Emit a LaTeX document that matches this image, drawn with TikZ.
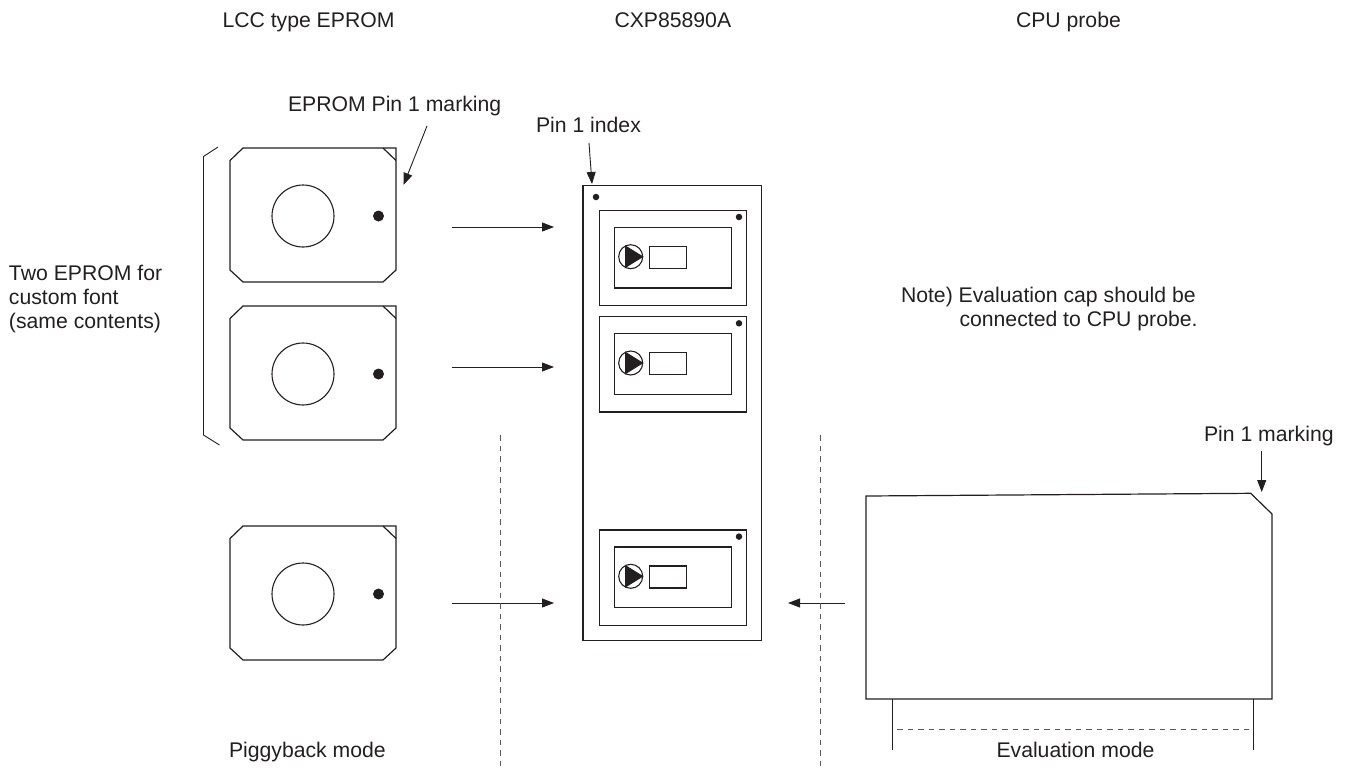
\documentclass[tikz,border=0pt]{standalone}
\usepackage{fontspec}
\setmainfont{Liberation Sans}
\usetikzlibrary{arrows.meta}
\definecolor{ink}{HTML}{231F20}
\tikzset{
  line/.style={draw=ink,line width=1.2pt,line join=miter},
  thin line/.style={draw=ink,line width=0.9pt},
  guide/.style={draw=ink!75,line width=0.8pt,dash pattern=on 5.5pt off 5pt},
  pointer/.style={draw=ink,line width=0.9pt,-{Triangle[length=12pt,width=9pt]}},
  label/.style={text=ink,font=\fontsize{21.2}{24}\selectfont,inner sep=0pt,outer sep=0pt},
  dotmark/.style={circle,fill=ink,inner sep=0pt,minimum size=#1},
  disc/.style={circle,draw=ink,line width=1.1pt,inner sep=0pt,minimum size=#1},
  box/.style={rectangle,draw=ink,line width=1.3pt,inner sep=0pt,anchor=north west}
}
\newcommand{\eprom}[2]{%
  \path[line,fill=white] (230,#2+12.5) -- (243,#2) -- (396,#2) -- (396,#2+122) -- (383,#2+134) -- (243,#2+134) -- (230,#2+122) -- cycle;
  \draw[line] (383,#2) -- (396,#2+12.5);
  \node[disc=62pt] (#1c) at (303,#2+68) {};
  \node[dotmark=11pt] (#1d) at (378.5,#2+68) {};
}
\newcommand{\sock}[2]{%
  \node[box,minimum width=147.2pt,minimum height=95.3pt] (#1o) at (598.5,#2) {};
  \node[box,minimum width=117.3pt,minimum height=60.6pt] (#1i) at (613.7,#2+17) {};
  \node[disc=24pt] (#1c) at (630.7,#2+47) {};
  \fill[ink] (625,#2+35.5) -- (643.5,#2+47) -- (625,#2+58.5) -- cycle;
  \node[box,minimum width=37pt,minimum height=22pt] (#1r) at (648.7,#2+36) {};
  \node[dotmark=6.5pt] (#1d) at (739,#2+7.3) {};
}
\begin{document}
\begin{tikzpicture}[x=1pt,y=-1pt]
\useasboundingbox (0,0) rectangle (1352,769);
% headings
\node[label,anchor=base west] (h1) at (222.5,27) {LCC type EPROM};
\node[label,anchor=base west] (h2) at (614.5,27) {CXP85890A};
\node[label,anchor=base west] (h3) at (1016,27) {CPU probe};
% EPROMs
\eprom{a}{148}
\eprom{b}{306}
\eprom{c}{526}
% bracket
\draw[thin line] (218,147) -- (203.5,156.5) -- (203.5,435) -- (219.5,445);
\node[label,anchor=base west,align=left] (two1) at (9,280) {Two EPROM for};
\node[label,anchor=base west,align=left] (two2) at (9,304) {custom font};
\node[label,anchor=base west,align=left] (two3) at (9,328.5) {(same contents)};
% device
\node[box,minimum width=178.7pt,minimum height=455.3pt] (dev) at (582.3,184.7) {};
\node[dotmark=6.5pt] (devd) at (596,197) {};
\sock{s}{209.7}
\sock{t}{316}
\sock{u}{529.3}
% labels with pointers
\node[label,anchor=base west] (mark) at (288,111.7) {EPROM Pin 1 marking};
\coordinate (markS) at (427,126);
\coordinate (markE) at (403.5,185);
\draw[pointer] (markS) -- (markE);
\node[label,anchor=base west] (idx) at (536,132.7) {Pin 1 index};
\coordinate (idxS) at (589,143);
\coordinate (idxE) at (592,184);
\draw[pointer] (idxS) -- (idxE);
\node[label,anchor=base west] (pm) at (1204,441.7) {Pin 1 marking};
\coordinate (pmS) at (1261.7,451);
\coordinate (pmE) at (1261.7,492);
\draw[pointer] (pmS) -- (pmE);
% insertion arrows
\foreach \n/\y in {p/227,q/367,r/603}{
  \coordinate (\n S) at (452,\y);
  \coordinate (\n E) at (554,\y);
  \draw[pointer] (\n S) -- (\n E);
}
\coordinate (vS) at (845,603);
\coordinate (vE) at (788,603);
\draw[pointer] (vS) -- (vE);
% note
\node[label,anchor=base west] (n1) at (901,302.7) {Note) Evaluation cap should be};
\node[label,anchor=base west] (n2) at (959.5,326) {connected to CPU probe.};
% separators
\coordinate (d1a) at (500,435); \coordinate (d1b) at (500,769);
\coordinate (d2a) at (820,435); \coordinate (d2b) at (820,769);
\draw[guide] (d1a) -- (d1b);
\draw[guide] (d2a) -- (d2b);
% probe
\draw[line] (866,496) -- (1250.7,493.3) -- (1272,514) -- (1272,699) -- (866,699) -- cycle;
\coordinate (l1a) at (892,699); \coordinate (l1b) at (892,750);
\coordinate (l2a) at (1253,699); \coordinate (l2b) at (1253,750);
\draw[thin line] (l1a) -- (l1b);
\draw[thin line] (l2a) -- (l2b);
\coordinate (ea) at (897,729); \coordinate (eb) at (1253,729);
\draw[guide] (ea) -- (eb);
\node[label,anchor=base west] (ev) at (996.5,757.3) {Evaluation mode};
\node[label,anchor=base west] (pg) at (229,757.3) {Piggyback mode};
\end{tikzpicture}
\end{document}
